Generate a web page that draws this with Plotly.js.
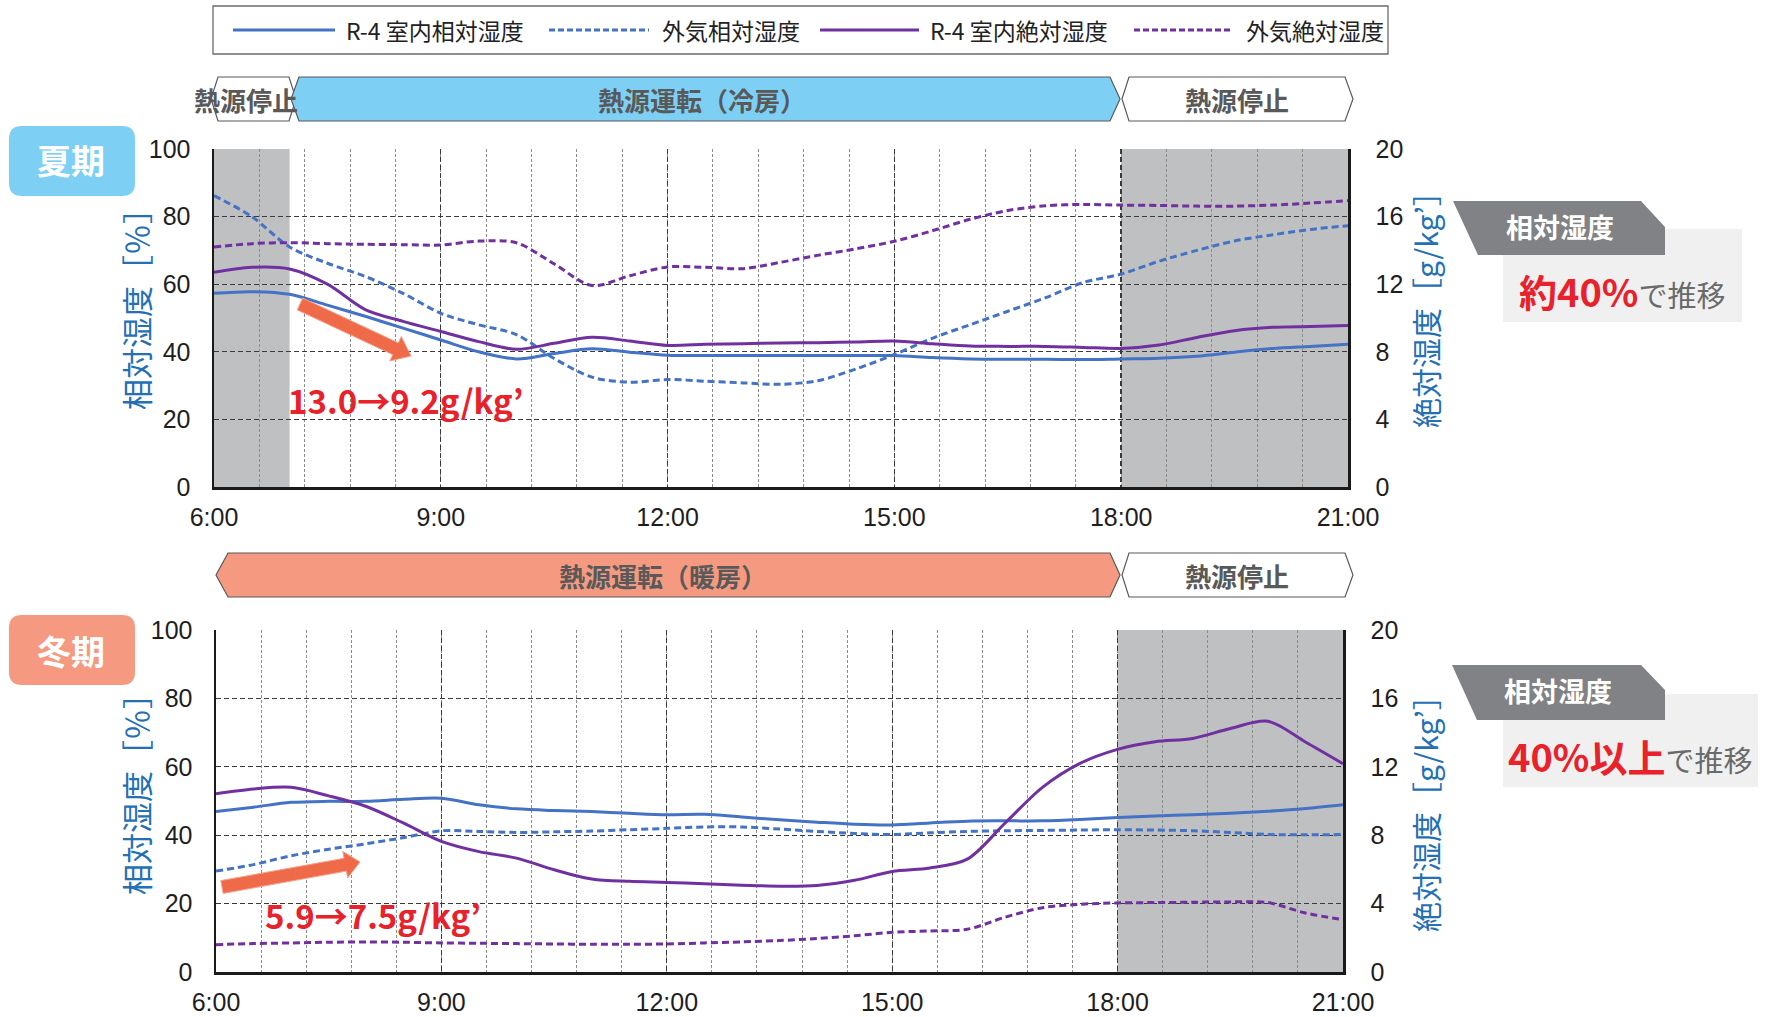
<!DOCTYPE html>
<html>
<head>
<meta charset="utf-8">
<script src="https://cdn.plot.ly/plotly-3.0.1.min.js"></script>
<style>
  html, body { margin: 0; padding: 0; background: #ffffff; }
  #chart { width: 1769px; height: 1017px; }
</style>
</head>
<body>
<div id="chart"></div>
<script>
// ---- data (time in hours; relative humidity in %, absolute humidity in g/kg') ----
const hours = [6, 6.5, 7, 7.5, 8, 8.5, 9, 9.5, 10, 10.5, 11, 11.5, 12, 12.5, 13, 13.5,
               14, 14.5, 15, 15.5, 16, 16.5, 17, 17.5, 18, 18.5, 19, 19.5, 20, 20.5, 21];

const tickHours  = [6, 9, 12, 15, 18, 21];
const tickLabels = ['6:00', '9:00', '12:00', '15:00', '18:00', '21:00'];

const seriesNames = ['R-4 室内相対湿度', '外気相対湿度', 'R-4 室内絶対湿度', '外気絶対湿度'];
const rhTitle = '相対湿度［％］';
const ahTitle = '絶対湿度［g/kg’］';

// summer
const summerIndoorRH  = [57.3, 57.8, 57.0, 53.8, 50.5, 47.0, 43.5, 40.0, 37.9, 39.5, 40.9, 39.9, 39.0, 38.9, 38.9, 38.9,
                         38.9, 38.9, 38.9, 38.3, 37.9, 37.8, 37.8, 37.7, 37.9, 38.1, 38.7, 39.9, 41.0, 41.6, 42.2];
const summerOutdoorRH = [86.2, 80.0, 71.0, 66.2, 62.3, 57.3, 51.4, 48.0, 45.1, 38.0, 32.5, 31.0, 31.8, 31.3, 30.8, 30.4,
                         31.5, 35.0, 39.2, 44.0, 48.0, 52.0, 56.0, 60.5, 63.0, 66.8, 70.0, 72.8, 74.6, 76.2, 77.3];
const summerIndoorAH  = [12.7, 13.0, 12.9, 12.0, 10.5, 9.8, 9.2, 8.6, 8.15, 8.5, 8.86, 8.64, 8.38, 8.44, 8.48, 8.52,
                         8.54, 8.58, 8.64, 8.48, 8.34, 8.32, 8.32, 8.26, 8.2, 8.4, 8.85, 9.25, 9.45, 9.5, 9.56];
const summerOutdoorAH = [14.2, 14.4, 14.46, 14.4, 14.36, 14.34, 14.32, 14.55, 14.45, 13.2, 11.92, 12.5, 13.02, 13.0, 12.92, 13.3,
                         13.72, 14.1, 14.54, 15.16, 15.84, 16.36, 16.64, 16.72, 16.68, 16.66, 16.62, 16.62, 16.68, 16.8, 16.95];

// winter
const winterIndoorRH  = [46.9, 48.2, 49.6, 49.9, 49.9, 50.5, 50.8, 48.9, 47.7, 47.2, 46.9, 46.4, 46.0, 46.1, 45.3, 44.5,
                         43.8, 43.2, 43.0, 43.6, 44.1, 44.2, 44.2, 44.6, 45.2, 45.6, 46.0, 46.4, 47.0, 47.8, 48.9];
const winterOutdoorRH = [29.5, 31.4, 34.0, 35.9, 37.5, 39.3, 41.3, 41.1, 40.8, 41.0, 41.2, 41.6, 42.0, 42.4, 42.4, 41.8,
                         41.1, 40.5, 40.2, 40.7, 41.1, 41.3, 41.4, 41.5, 41.6, 41.5, 41.3, 40.8, 40.2, 40.1, 40.2];
const winterIndoorAH  = [10.42, 10.7, 10.8, 10.3, 9.68, 8.7, 7.64, 7.04, 6.66, 5.98, 5.44, 5.3, 5.24, 5.16, 5.08, 5.02,
                         5.06, 5.36, 5.88, 6.08, 6.6, 8.7, 10.8, 12.2, 13.02, 13.46, 13.66, 14.24, 14.66, 13.45, 12.18];
const winterOutdoorAH = [1.6, 1.66, 1.7, 1.74, 1.76, 1.74, 1.7, 1.68, 1.66, 1.64, 1.62, 1.62, 1.64, 1.7, 1.76, 1.84,
                         1.96, 2.12, 2.32, 2.4, 2.5, 3.2, 3.76, 3.96, 4.04, 4.06, 4.08, 4.1, 4.06, 3.45, 3.06];

// heat-source off periods (shaded)
const summerOffPeriods = [[6, 7], [18, 21]];
const winterOffPeriods = [[18, 21]];

// ---- page geometry helpers (figure has zero margins, so paper == page pixels) ----
const W = 1769, H = 1017;
const PX = x => x / W;
const PY = y => 1 - y / H;
const pt = (x, y) => PX(x).toFixed(5) + ',' + PY(y).toFixed(5);

const BLUE = '#4472C4', PURPLE = '#7030A0';
const CJK = '"Noto Sans CJK JP", "Noto Sans", sans-serif';
const NUM = '"Liberation Sans", Arial, sans-serif';
const AXIS_BLUE = '#2470B5';

function polyPath(points) {
  return 'M' + points.map(p => pt(p[0], p[1])).join('L') + 'Z';
}
function hexPath(x1, x2, y1, y2, dl, dr) {
  const ym = (y1 + y2) / 2;
  return polyPath([[x1 + dl, y1], [x2 - dr, y1], [x2, ym], [x2 - dr, y2], [x1 + dl, y2], [x1, ym]]);
}
function roundRectPath(x1, y1, x2, y2, r) {
  return 'M' + pt(x1 + r, y1) + 'L' + pt(x2 - r, y1) + 'Q' + pt(x2, y1) + ' ' + pt(x2, y1 + r) +
         'L' + pt(x2, y2 - r) + 'Q' + pt(x2, y2) + ' ' + pt(x2 - r, y2) +
         'L' + pt(x1 + r, y2) + 'Q' + pt(x1, y2) + ' ' + pt(x1, y2 - r) +
         'L' + pt(x1, y1 + r) + 'Q' + pt(x1, y1) + ' ' + pt(x1 + r, y1) + 'Z';
}
function blockArrowPath(x1, y1, x2, y2, shaft, headW, headL) {
  const len = Math.hypot(x2 - x1, y2 - y1);
  const dx = (x2 - x1) / len, dy = (y2 - y1) / len;
  const nx = -dy, ny = dx;
  const bx = x2 - dx * headL, by = y2 - dy * headL;
  return polyPath([
    [x1 + nx * shaft / 2, y1 + ny * shaft / 2],
    [bx + nx * shaft / 2, by + ny * shaft / 2],
    [bx + nx * headW / 2, by + ny * headW / 2],
    [x2, y2],
    [bx - nx * headW / 2, by - ny * headW / 2],
    [bx - nx * shaft / 2, by - ny * shaft / 2],
    [x1 - nx * shaft / 2, y1 - ny * shaft / 2]
  ]);
}

// ---- traces ----
function line(name, x, y, xa, ya, color, dashed) {
  return {
    type: 'scatter', mode: 'lines', name, x, y, xaxis: xa, yaxis: ya, showlegend: false,
    line: { color, width: 3, dash: dashed ? '7px,4px' : 'solid', shape: 'spline', smoothing: 0.9 },
    hoverinfo: 'skip'
  };
}

const data = [
  line(seriesNames[0], hours, summerIndoorRH,  'x',  'y',  BLUE,   false),
  line(seriesNames[1], hours, summerOutdoorRH, 'x',  'y',  BLUE,   true),
  line(seriesNames[2], hours, summerIndoorAH,  'x',  'y3', PURPLE, false),
  line(seriesNames[3], hours, summerOutdoorAH, 'x',  'y3', PURPLE, true),
  line(seriesNames[0], hours, winterIndoorRH,  'x2', 'y2', BLUE,   false),
  line(seriesNames[1], hours, winterOutdoorRH, 'x2', 'y2', BLUE,   true),
  line(seriesNames[2], hours, winterIndoorAH,  'x2', 'y4', PURPLE, false),
  line(seriesNames[3], hours, winterOutdoorAH, 'x2', 'y4', PURPLE, true)
];

// ---- axes ----
const tickFont = { family: NUM, size: 25, color: '#1e1e1e' };

function timeAxis(domain, anchor) {
  return {
    domain, anchor, range: [6, 21], tickmode: 'array', tickvals: tickHours, ticktext: tickLabels,
    showline: true, linecolor: '#1a1a1a', linewidth: 2.5, zeroline: false,
    showgrid: true, gridcolor: '#3a3a3a', gridwidth: 1.4, griddash: '5px,3px',
    minor: { tick0: 6, dtick: 0.6, showgrid: true, gridcolor: '#8c8c8c', gridwidth: 1, griddash: '3px,2px' },
    ticks: '', tickfont: tickFont, ticklabelstandoff: 6, fixedrange: true
  };
}
function rhAxis(domain, anchor) {
  return {
    domain, anchor, range: [0, 100], dtick: 20, tick0: 0,
    showline: true, linecolor: '#1a1a1a', linewidth: 2.5, zeroline: false,
    showgrid: true, gridcolor: '#3a3a3a', gridwidth: 1.4, griddash: '5px,3px',
    ticks: '', tickfont: tickFont, ticklabelstandoff: 16, fixedrange: true
  };
}
function ahAxis(overlay, anchor) {
  return {
    overlaying: overlay, anchor, side: 'right', range: [0, 20], dtick: 4, tick0: 0,
    showline: true, linecolor: '#1a1a1a', linewidth: 2.5, zeroline: false, showgrid: false,
    ticks: '', tickfont: tickFont, ticklabelstandoff: 20, fixedrange: true
  };
}

const topX = [214 / W, 1348 / W], topY = [1 - 487 / H, 1 - 149 / H];
const botX = [216 / W, 1343 / W], botY = [1 - 972 / H, 1 - 630 / H];

// ---- decorations ----
const shapes = [];
const annotations = [];

// shaded "heat source off" spans
summerOffPeriods.forEach(p => shapes.push({ type: 'rect', xref: 'x', yref: 'y domain', x0: p[0], x1: p[1], y0: 0, y1: 1,
  fillcolor: '#BFC0C2', line: { width: 0 }, layer: 'below' }));
winterOffPeriods.forEach(p => shapes.push({ type: 'rect', xref: 'x2', yref: 'y2 domain', x0: p[0], x1: p[1], y0: 0, y1: 1,
  fillcolor: '#BFC0C2', line: { width: 0 }, layer: 'below' }));

const paperShape = (path, fill, lineColor, lw) => ({ type: 'path', xref: 'paper', yref: 'paper', path,
  fillcolor: fill, line: { color: lineColor || 'rgba(0,0,0,0)', width: lw || 0 }, layer: 'above' });
const paperText = (x, y, text, size, color, opts) => Object.assign({
  xref: 'paper', yref: 'paper', x: PX(x), y: PY(y), text, showarrow: false,
  xanchor: 'center', yanchor: 'middle', font: { family: CJK, size, color }
}, opts || {});

// vertical axis titles
annotations.push(paperText(135, 302, rhTitle, 31, AXIS_BLUE, { textangle: -90 }));
annotations.push(paperText(135, 787, rhTitle, 31, AXIS_BLUE, { textangle: -90 }));
annotations.push(paperText(1425, 302, ahTitle, 30, AXIS_BLUE, { textangle: -90 }));
annotations.push(paperText(1425, 806, ahTitle, 30, AXIS_BLUE, { textangle: -90 }));

// legend box
shapes.push({ type: 'rect', xref: 'paper', yref: 'paper', x0: PX(213), x1: PX(1388), y0: PY(54), y1: PY(6),
  fillcolor: '#ffffff', line: { color: '#6b6b6b', width: 1.3 } });
const legendItems = [
  { x0: 233, x1: 335, tx: 344, color: BLUE, dash: 'solid' },
  { x0: 549, x1: 649, tx: 660, color: BLUE, dash: '6px,3px' },
  { x0: 820, x1: 919, tx: 928, color: PURPLE, dash: 'solid' },
  { x0: 1134, x1: 1233, tx: 1244, color: PURPLE, dash: '6px,3px' }
];
legendItems.forEach((it, i) => {
  shapes.push({ type: 'line', xref: 'paper', yref: 'paper', x0: PX(it.x0), x1: PX(it.x1), y0: PY(30), y1: PY(30),
    line: { color: it.color, width: 3, dash: it.dash } });
  annotations.push(paperText(it.tx, 30, seriesNames[i], 23, '#222', { xanchor: 'left' }));
});

// operating-mode banners
const bannerText = (x, y, t) => paperText(x, y, '<b>' + t + '</b>', 26, '#595959');
shapes.push(paperShape(hexPath(211, 296, 77, 121, 7, 7), '#ffffff', '#595959', 1.2));
shapes.push(paperShape(hexPath(291, 1120, 77, 121, 8, 10), '#7DD0F4', '#595959', 1.2));
shapes.push(paperShape(hexPath(1122, 1353, 77, 121, 7, 8), '#ffffff', '#595959', 1.2));
annotations.push(bannerText(246, 99, '熱源停止'));
annotations.push(bannerText(702, 99, '熱源運転（冷房）'));
annotations.push(bannerText(1237, 99, '熱源停止'));

shapes.push(paperShape(hexPath(216, 1120, 553, 597, 12, 10), '#F59A80', '#595959', 1.2));
shapes.push(paperShape(hexPath(1122, 1353, 553, 597, 7, 8), '#ffffff', '#595959', 1.2));
annotations.push(bannerText(663, 575, '熱源運転（暖房）'));
annotations.push(bannerText(1237, 575, '熱源停止'));

// season badges
shapes.push(paperShape(roundRectPath(9, 126, 135, 196, 13), '#7DD0F4'));
shapes.push(paperShape(roundRectPath(9, 615, 135, 685, 13), '#F59A80'));
annotations.push(paperText(71, 160, '<b>夏期</b>', 34, '#ffffff'));
annotations.push(paperText(71, 650, '<b>冬期</b>', 34, '#ffffff'));

// trend arrows and their labels
const arrowFill = '#EF6A49', arrowEdge = '#F6A18A';
shapes.push(paperShape(blockArrowPath(300, 304, 411, 356, 13, 27, 17), arrowFill, arrowEdge, 1));
shapes.push(paperShape(blockArrowPath(222, 887, 360, 862, 13, 27, 15), arrowFill, arrowEdge, 1));
annotations.push(paperText(406, 400, '<b>13.0→9.2g/kg’</b>', 33, '#E8212B'));
annotations.push(paperText(373, 915, '<b>5.9→7.5g/kg’</b>', 33, '#E8212B'));

// relative-humidity callouts
function callout(tabPts, box, tabCenter, textCenter, html) {
  shapes.push(paperShape(polyPath([[box[0], box[1]], [box[2], box[1]], [box[2], box[3]], [box[0], box[3]]]), '#F0F0F0'));
  shapes.push(paperShape(polyPath(tabPts), '#808285'));
  annotations.push(paperText(tabCenter[0], tabCenter[1], '<b>相対湿度</b>', 27, '#ffffff'));
  annotations.push(paperText(textCenter[0], textCenter[1], html, 29, '#666666'));
}
callout([[1453, 201], [1641, 201], [1665, 227], [1665, 255], [1478, 255]], [1503, 229, 1742, 322],
  [1560, 226], [1622, 291],
  '<span style="color:#E8212B;font-size:38px"><b>約40%</b></span><span style="color:#6a6a6a">で推移</span>');
callout([[1452, 665], [1641, 665], [1665, 690], [1665, 720], [1477, 720]], [1503, 694, 1758, 787],
  [1558, 690], [1630, 755],
  '<span style="color:#E8212B;font-size:38px"><b>40%以上</b></span><span style="color:#6a6a6a">で推移</span>');

const layout = {
  width: W, height: H,
  margin: { l: 0, r: 0, t: 0, b: 0, pad: 0 },
  paper_bgcolor: '#ffffff', plot_bgcolor: '#ffffff',
  showlegend: false,
  xaxis: timeAxis(topX, 'y'),
  yaxis: rhAxis(topY, 'x'),
  yaxis3: ahAxis('y', 'x'),
  xaxis2: timeAxis(botX, 'y2'),
  yaxis2: rhAxis(botY, 'x2'),
  yaxis4: ahAxis('y2', 'x2'),
  shapes, annotations,
  font: { family: CJK }
};

Plotly.newPlot('chart', data, layout, { staticPlot: true, displayModeBar: false });
</script>
</body>
</html>
